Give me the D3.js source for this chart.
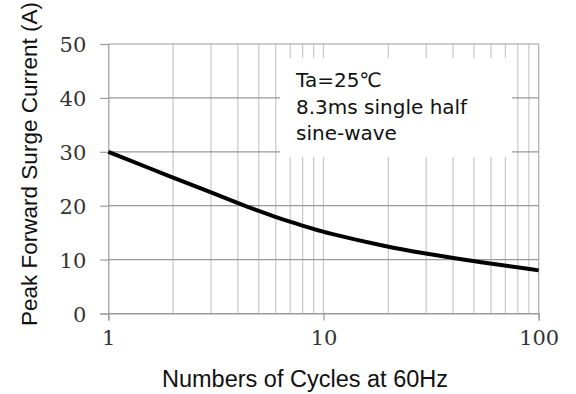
<!DOCTYPE html>
<html>
<head>
<meta charset="utf-8">
<script src="https://cdn.jsdelivr.net/npm/d3@7"></script>
<style>
  body { margin: 0; background: #fff; }
  svg { display: block; }
</style>
</head>
<body>
<div id="chart"></div>
<script>
// values
const cycles = [1, 2, 3, 4, 5, 6, 7, 8, 9, 10, 20, 30, 40, 50, 100]
const current = [30, 25.2, 22.5, 20.5, 19.0, 17.9, 17.0, 16.3, 15.7, 15.1, 12.3, 11.1, 10.3, 9.7, 8.0]
const yTicks = [0, 10, 20, 30, 40, 50]
const xTicks = [1, 10, 100]
const xMinor = [2, 3, 4, 5, 6, 7, 8, 9, 20, 30, 40, 50, 60, 70, 80, 90]
const noteLines = ['Ta=25\u2103', '8.3ms single half', 'sine-wave']

const width = 576, height = 394
const svg = d3.select('#chart').append('svg')
  .attr('width', width)
  .attr('height', height)

const x = d3.scaleLog().domain([1, 100]).range([108.3, 538.7])
const y = d3.scaleLinear().domain([0, 50]).range([313.5, 44])

// vertical grid
svg.append('g')
  .selectAll('line')
  .data(xMinor.concat([10]))
  .enter().append('line')
  .attr('x1', d => x(d)).attr('x2', d => x(d))
  .attr('y1', y(0)).attr('y2', y(50))
  .attr('stroke', '#c8c8c8')
  .attr('stroke-width', 1.2)

svg.append('line')
  .attr('x1', x(100)).attr('x2', x(100))
  .attr('y1', y(0)).attr('y2', y(50))
  .attr('stroke', '#aaa')
  .attr('stroke-width', 1.2)

// horizontal grid
svg.append('g')
  .selectAll('line')
  .data(yTicks)
  .enter().append('line')
  .attr('x1', x(1)).attr('x2', x(100))
  .attr('y1', d => y(d)).attr('y2', d => y(d))
  .attr('stroke', '#999')
  .attr('stroke-width', 1.2)

// note box hides the grid behind it
svg.append('rect')
  .attr('x', 280).attr('y', 58)
  .attr('width', 232).attr('height', 99)
  .attr('fill', '#fff')

svg.append('g')
  .selectAll('text')
  .data(noteLines)
  .enter().append('text')
  .attr('x', 296)
  .attr('y', (d, i) => 87 + i * 26.7)
  .attr('font-family', 'DejaVu Sans, Noto Sans CJK JP, sans-serif')
  .attr('font-size', 20)
  .attr('fill', '#111')
  .text(d => d)

// axes
const yAxis = d3.axisLeft(y).tickValues(yTicks).tickSize(8).tickPadding(14)
const gy = svg.append('g').attr('transform', `translate(${x(1)},0)`).call(yAxis)
const xAxis = d3.axisBottom(x).tickValues(xTicks).tickFormat(d3.format('d')).tickSize(7).tickPadding(10)
const gx = svg.append('g').attr('transform', `translate(0,${y(0)})`).call(xAxis)

;[gx, gy].forEach(g => {
  g.select('.domain').attr('stroke', '#999').attr('stroke-width', 1.2)
  g.selectAll('.tick line').attr('stroke', '#999').attr('stroke-width', 1.2)
  g.selectAll('.tick text')
    .attr('font-family', 'DejaVu Serif, serif')
    .attr('font-size', 21)
    .attr('fill', '#333')
})
gy.selectAll('.tick text').attr('dy', '0.36em')

// curve
const line = d3.line()
  .x((d, i) => x(cycles[i]))
  .y(d => y(d))
  .curve(d3.curveBasis)

svg.append('path')
  .datum(current)
  .attr('d', line)
  .attr('fill', 'none')
  .attr('stroke', '#000')
  .attr('stroke-width', 4)

// titles
svg.append('text')
  .attr('x', 305).attr('y', 387)
  .attr('text-anchor', 'middle')
  .attr('font-family', 'Liberation Sans, Arial, sans-serif')
  .attr('font-size', 23.5)
  .attr('fill', '#111')
  .text('Numbers of Cycles at 60Hz')

svg.append('text')
  .attr('transform', 'translate(37,164) rotate(-90)')
  .attr('text-anchor', 'middle')
  .attr('font-family', 'Liberation Sans, Arial, sans-serif')
  .attr('font-size', 22.5)
  .attr('fill', '#111')
  .text('Peak Forward Surge Current (A)')
</script>
</body>
</html>
